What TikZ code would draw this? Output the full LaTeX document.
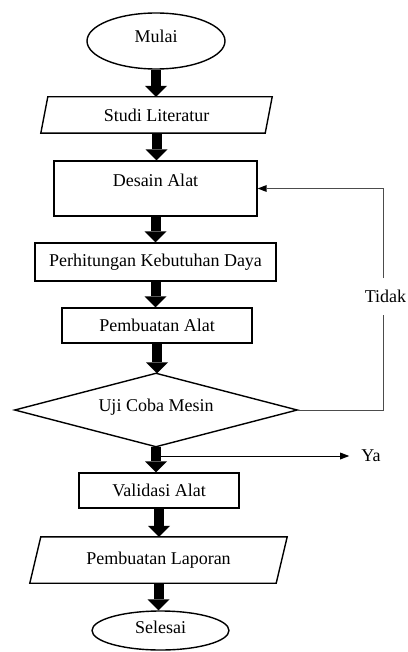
\documentclass[tikz,border=0pt]{standalone}
\usepackage{fontspec}
\setmainfont{Liberation Serif}
\usetikzlibrary{shapes.geometric,arrows.meta,calc}
\begin{document}
\begin{tikzpicture}[x=1pt,y=-1pt,
  every node/.style={font=\fontsize{18}{20}\selectfont, inner sep=0pt},
  box/.style={draw, line width=1.4pt, rectangle},
  term/.style={draw, line width=1.4pt, ellipse},
  hidden/.style={rectangle},
  outline/.style={line width=1.4pt, line join=miter},
  bigarrow/.style={line width=10pt, -{Triangle[width=22pt, length=11pt, line width=0pt]}},
  thinarrow/.style={line width=0.9pt, -{Triangle[width=7pt, length=9pt, line width=0pt, fill=black]}},
  fb/.style={draw=black!70, line width=1pt},
]
\useasboundingbox (0,0) rectangle (407,652);

% nodes
\node[term, minimum width=138, minimum height=56, text height=12pt, text depth=9pt] (mulai) at (156,41) {Mulai};
\node[hidden, minimum width=231, minimum height=36] (studi) at (156.5,115) {Studi Literatur};
\node[box, minimum width=203, minimum height=55, text height=12pt, text depth=17pt] (desain) at (155.5,188.5) {Desain Alat};
\node[box, minimum width=241, minimum height=38] (hitung) at (155.5,262) {Perhitungan Kebutuhan Daya};
\node[box, minimum width=190, minimum height=35] (buat) at (157,325.5) {Pembuatan Alat};
\node[hidden, minimum width=282, minimum height=73, text height=12pt, text depth=9pt] (uji) at (156,410) {Uji Coba Mesin};
\node[box, minimum width=160, minimum height=35] (valid) at (159,490.5) {Validasi Alat};
\node[hidden, minimum width=257, minimum height=46] (lapor) at (158.5,560) {Pembuatan Laporan};
\node[term, minimum width=137, minimum height=39, text height=12pt, text depth=7pt] (selesai) at (160.5,630.5) {Selesai};
\node (ya) at (371,456) {Ya};
\node (tidak) at (385.5,296) {Tidak};

% shapes drawn from node anchors
\draw[outline] ($(studi.north west)+(7,0)$) -- (studi.north east) -- ($(studi.south east)+(-7,0)$) -- (studi.south west) -- cycle;
\draw[outline] (uji.north) -- (uji.east) -- (uji.south) -- (uji.west) -- cycle;
\draw[outline] ($(lapor.north west)+(11,0)$) -- (lapor.north east) -- ($(lapor.south east)+(-11,0)$) -- (lapor.south west) -- cycle;

% main flow arrows
\draw[bigarrow] (mulai.south) -- (mulai.south |- studi.north);
\draw[bigarrow] (studi.south) -- (studi.south |- desain.north);
\draw[bigarrow] (desain.south) -- (desain.south |- hitung.north);
\draw[bigarrow] (hitung.south) -- (hitung.south |- buat.north);
\draw[bigarrow] (buat.south) -- (buat.south |- uji.north);
\draw[bigarrow] (uji.south) -- (uji.south |- valid.north);
\draw[bigarrow] (valid.south) -- (valid.south |- lapor.north);
\draw[bigarrow] (lapor.south) -- (lapor.south |- selesai.north);

% Ya branch
\coordinate (yastart) at (161,456);
\draw[thinarrow] (yastart) -- ([xshift=-12pt]ya.west);

% Tidak feedback loop
\coordinate (gaplow) at (383,315);
\coordinate (gaphigh) at (383,278);
\draw[fb] (uji.east) -| (gaplow);
\draw[fb, thinarrow, line width=1pt] (gaphigh) |- (desain.east);
\end{tikzpicture}
\end{document}
